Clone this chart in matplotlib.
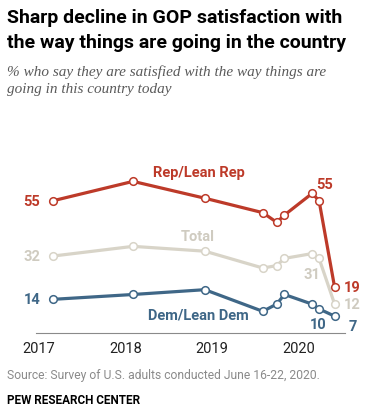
import numpy as np
import matplotlib
matplotlib.use("Agg")
import matplotlib.pyplot as pp

# survey dates as fractional years
dates = [2017.17, 2018.09, 2018.92, 2019.59, 2019.75, 2019.84, 2020.16, 2020.24, 2020.42]
rep = [55, 63, 56, 50, 46, 49, 58, 55, 19]
total = [32, 36, 34, 27, 28, 31, 33, 31, 12]
dem = [14, 16, 18, 9, 12, 16, 12, 10, 7]
years = [2017, 2018, 2019, 2020]

RED = "#BD3A29"
GRAY = "#D8D4C8"
BLUE = "#3F6787"
LABEL_GRAY = "#CFCBC0"

W, H = 372, 414
fig = pp.figure(figsize=(W / 100, H / 100), dpi=100)
ax = fig.add_axes([36 / W, (H - 334) / H, 309 / W, 174 / H])

for vals, col in [(total, GRAY), (dem, BLUE), (rep, RED)]:
    ax.plot(dates, vals, color=col, lw=2.3, marker='o', ms=5.5,
            mfc='white', mec=col, mew=1.1, solid_capstyle='round', zorder=3)

ax.set_xlim(2016.968, 2020.54)
ax.set_ylim(0, 72.3)
for s in ['top', 'right', 'left']:
    ax.spines[s].set_visible(False)
ax.spines['bottom'].set_color('#8a8a8a')
ax.spines['bottom'].set_linewidth(0.8)
ax.set_yticks([])
ax.set_xticks(years)
ax.set_xticklabels([str(y) for y in years], fontsize=10.5, family='Roboto')
ax.tick_params(axis='x', length=0, pad=6, colors='#222222')

bold = dict(fontweight='bold', family='Roboto', fontsize=10.5)

# start labels
for vals, col in [(rep, RED), (total, LABEL_GRAY), (dem, BLUE)]:
    ax.annotate(str(vals[0]), (dates[0], vals[0]), xytext=(-9.5, 0),
                textcoords='offset points', ha='right', va='center', color=col, **bold)

# end labels
ax.annotate(str(rep[-1]), (dates[-1], rep[-1]), xytext=(6.5, 0),
            textcoords='offset points', ha='left', va='center', color=RED, **bold)
ax.annotate(str(total[-1]), (dates[-1], total[-1]), xytext=(6.5, 0),
            textcoords='offset points', ha='left', va='center', color=LABEL_GRAY, **bold)
ax.annotate(str(dem[-1]), (dates[-1], dem[-1]), xytext=(10, -7),
            textcoords='offset points', ha='left', va='center', color=BLUE, **bold)
# april 2020 labels
ax.annotate(str(rep[-2]), (dates[-2], rep[-2]), xytext=(4, 12),
            textcoords='offset points', ha='center', va='center', color=RED, **bold)
ax.annotate(str(total[-2]), (dates[-2], total[-2]), xytext=(-5, -11.5),
            textcoords='offset points', ha='center', va='center', color=LABEL_GRAY, **bold)
ax.annotate(str(dem[-2]), (dates[-2], dem[-2]), xytext=(-0.5, -10.5),
            textcoords='offset points', ha='center', va='center', color=BLUE, **bold)

# series names
ax.text(2018.85, 66.8, "Rep/Lean Rep", ha='center', va='center', color=RED, **bold)
ax.text(2018.84, 40.4, "Total", ha='center', va='center', color=LABEL_GRAY, **bold)
ax.text(2018.85, 7.5, "Dem/Lean Dem", ha='center', va='center', color=BLUE, **bold)

# title block
fig.text(7 / W, 1 - 18 / H, "Sharp decline in GOP satisfaction with", ha='left', va='center',
         fontsize=14, fontweight='bold', family='Roboto', color='black')
fig.text(7 / W, 1 - 43 / H, "the way things are going in the country", ha='left', va='center',
         fontsize=14, fontweight='bold', family='Roboto', color='black')
fig.text(7 / W, 1 - 72 / H, "% who say they are satisfied with the way things are", ha='left',
         va='center', fontsize=11, style='italic', family='Liberation Serif', color='#5a5a5a')
fig.text(7 / W, 1 - 89 / H, "going in this country today", ha='left',
         va='center', fontsize=11, style='italic', family='Liberation Serif', color='#5a5a5a')

fig.text(7 / W, 1 - 376 / H, "Source: Survey of U.S. adults conducted June 16-22, 2020.",
         ha='left', va='center', fontsize=8.7, family='Roboto', color='#8a8a8a')
fig.text(7 / W, 1 - 401 / H, "PEW RESEARCH CENTER", ha='left', va='center',
         fontsize=8.5, fontweight='bold', family='Roboto', color='black')

pp.savefig("out.png", dpi=100)
